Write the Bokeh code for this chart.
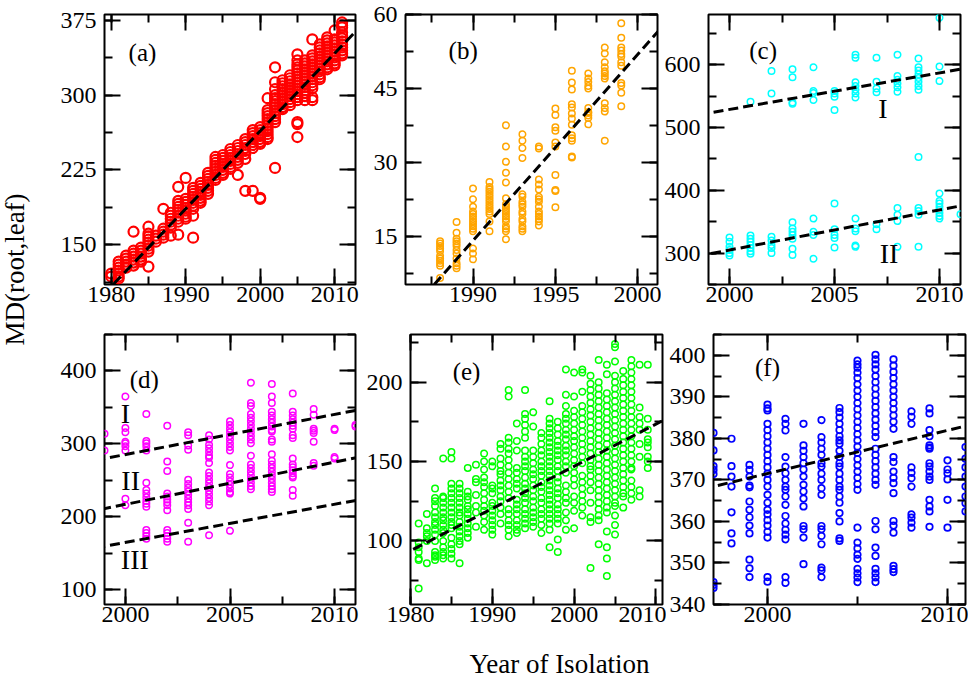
import math
from bokeh.plotting import figure
from bokeh.layouts import row, column
from bokeh.models import (SingleIntervalTicker, LinearAxis, Slope, Label,
                          CustomJSTickFormatter)
from bokeh.embed import file_html
from bokeh.resources import INLINE

# ---------------- data ----------------
# panel (a)
a_years = list(range(1980, 2012))
a_vals = [
    [121, 118],
    [133, 130, 127, 124, 121, 118, 116],
    [139, 136, 133, 130, 127],
    [163, 144, 141, 138, 135, 132, 129],
    [147, 144, 141, 138, 135, 133],
    [168, 161, 158, 155, 152, 149, 146, 143, 128],
    [159, 156, 153],
    [186, 166, 163, 160, 157],
    [182, 179, 176, 173, 170, 167, 159],
    [208, 194, 191, 188, 185, 182, 179, 176, 173, 160],
    [217, 196, 193, 190, 187, 184, 181, 178, 176],
    [207, 204, 201, 198, 195, 192, 189, 186, 179, 157],
    [212, 209, 206, 203, 200, 197, 194, 192],
    [222, 219, 216, 213, 210, 207, 204, 201],
    [238, 235, 232, 229, 226, 223, 220, 217, 215],
    [240, 237, 234, 231, 228, 225, 222, 220],
    [246, 243, 240, 237, 234, 231, 228, 226],
    [250, 247, 244, 241, 238, 235, 232, 220],
    [256, 253, 250, 247, 244, 241, 236, 204],
    [265, 262, 259, 256, 253, 250, 247, 204],
    [268, 265, 262, 259, 256, 253, 251, 197, 196],
    [297, 285, 282, 279, 276, 273, 270, 267, 264, 261, 258, 256],
    [328, 313, 306, 300, 297, 294, 291, 288, 285, 282, 279, 276, 273, 227],
    [315, 312, 309, 306, 303, 300, 297, 294, 291, 288, 286],
    [320, 317, 314, 311, 308, 305, 302, 299, 296, 293, 290],
    [341, 335, 331, 328, 325, 322, 319, 316, 313, 310, 307, 304, 301, 298, 295, 273, 271, 258],
    [335, 332, 329, 326, 323, 320, 317, 314, 311, 308, 305, 302, 299, 295],
    [356, 340, 337, 334, 331, 328, 325, 322, 319, 316, 313, 310, 307, 298, 295],
    [351, 348, 345, 342, 339, 336, 333, 330, 327, 324, 321, 318, 316],
    [358, 355, 352, 349, 346, 343, 340, 337, 334, 331, 328, 326],
    [365, 356, 353, 350, 347, 344, 341, 338, 335, 332, 330],
    [373, 370, 368, 363, 360, 357, 354, 351, 348, 345, 342, 340],
]
a_fit_slope = [7.8]
a_fit_at2000 = [264.0]

# panel (b)
b_years = list(range(1988, 2000))
b_vals = [
    [14, 13.5, 13, 12.5, 12, 11, 10.5, 10, 9.5, 9, 6.5],
    [17.9, 15.7, 14.5, 14, 13.5, 13, 12.2, 11.5, 10.5, 9.5, 9, 8.5],
    [24.7, 22.5, 21, 20, 19.5, 19, 18.5, 18, 17.5, 17, 16.5, 16, 12.5, 11.5, 10.3],
    [26, 25, 24.5, 24, 23.5, 23, 22.5, 22, 21.5, 21, 20.5, 20, 19.5, 18, 16],
    [37.5, 33.2, 30.1, 27.9, 25.9, 22.7, 21.5, 21, 20.5, 20, 19.5, 19, 18.5, 18, 17, 16.5, 16, 14.4],
    [35.7, 34.4, 32.9, 30.9, 23.5, 23, 22, 21.5, 21, 20, 19.5, 18.5, 18, 17, 16.5, 16],
    [33.2, 32.8, 26.5, 25.5, 24.5, 23, 22.5, 22, 21, 20, 19.5, 19, 18.5, 18, 17.2],
    [40.9, 39.6, 37.1, 36.4, 34, 33.2, 27.4, 24.4, 24.2, 20.9],
    [48.6, 46.2, 44.8, 41.8, 41.1, 39.9, 38.9, 37.6, 35.5, 34.9, 34.4, 31.2, 31.0],
    [48, 47, 46.3, 45.5, 45, 41, 40.2, 40, 39.5, 39, 37.7],
    [53.3, 52.1, 50.3, 49.3, 48.5, 48, 47.5, 47, 42, 41, 40.3, 34.4],
    [58.2, 55.3, 53.3, 52.7, 52, 51.5, 50.3, 49.6, 46.1, 45.6, 44.1, 41.4],
]
b_fit_slope = [3.78]
b_fit_at1995 = [33.0]

# panel (c)
c_years = list(range(2000, 2012))
c_vals = [
    [325, 318, 310, 305, 300, 296],
    [541, 328, 323, 318, 313, 308, 303, 299],
    [590, 554, 326, 320, 313, 308, 300],
    [593, 580, 540, 538, 349, 339, 334, 329, 323, 307, 297],
    [596, 558, 555, 544, 355, 334, 329, 291],
    [558, 554, 549, 528, 379, 338, 329, 324, 309],
    [616, 611, 572, 566, 560, 554, 548, 355, 339, 335, 312, 310],
    [611, 573, 562, 556, 346, 338],
    [616, 582, 576, 570, 564, 557, 372, 361, 351, 310],
    [610, 596, 591, 585, 579, 573, 566, 560, 453, 372, 367, 361, 310],
    [675, 597, 574, 395, 383, 379, 374, 369, 364, 359, 355],
    [362],
]
c_fit_slope = [5.82, 6.39]
c_fit_at1999 = [523.0, 298.5]
c_fit_names = ["I", "II"]

# panel (d)
d_years = list(range(1999, 2012))
d_vals = [
    [314, 291],
    [365, 322, 316, 303, 301, 297, 291, 225, 216],
    [341, 304, 301, 297, 291, 247, 237, 232, 227, 222, 218, 214, 182, 178, 174, 170],
    [325, 276, 263, 232, 228, 224, 220, 216, 209, 182, 178, 174, 170, 166],
    [316, 312, 298, 292, 251, 245, 240, 235, 230, 225, 220, 216, 211, 192, 166],
    [312, 306, 299, 294, 289, 284, 281, 274, 261, 256, 251, 246, 241, 236, 231, 226, 221, 216, 175],
    [331, 326, 321, 316, 311, 306, 301, 296, 291, 271, 259, 254, 249, 244, 239, 234, 232, 181],
    [384, 356, 352, 341, 336, 331, 326, 321, 316, 311, 306, 301, 284, 272, 267, 262, 257, 252, 247, 242, 238],
    [382, 365, 356, 344, 339, 334, 329, 324, 319, 317, 306, 303, 286, 277, 272, 267, 262, 257, 252, 247, 242, 238, 234],
    [369, 344, 339, 334, 329, 325, 321, 312, 308, 280, 272, 268, 264, 260, 256, 254, 237, 229],
    [348, 340, 321, 318, 315, 303, 274, 270],
    [321, 319, 282, 280],
    [326, 324],
]
d_fit_slope = [5.5, 5.8, 5.23]
d_fit_at1999 = [280.0, 211.4, 159.8]
d_fit_names = ["I", "II", "III"]

# panel (e)
e_years = list(range(1981, 2010))
e_vals = [
    [111, 99, 96, 93, 89, 88, 70],
    [117, 108, 105, 103, 100, 86],
    [133, 127, 125, 122, 118, 115, 112, 110, 107, 104, 100, 93, 91, 90, 88],
    [152, 128, 127, 124, 121, 118, 115, 113, 110, 107, 105, 100, 96, 93, 91, 89],
    [156, 152, 136, 133, 130, 127, 124, 121, 118, 115, 112, 110, 108, 102, 98, 95, 92, 89],
    [136, 133, 130, 127, 124, 121, 118, 116, 112, 109, 106, 103, 100, 98, 86],
    [146, 131, 128, 126, 122, 120, 117, 114, 111, 108, 105, 102],
    [148, 139, 137, 129, 122, 118, 109],
    [155, 150, 145, 140, 137, 134, 130, 126, 122, 119, 116, 112, 107],
    [150, 147, 135, 133, 130, 124, 122, 119, 116, 113, 110, 107, 104],
    [161, 158, 152, 148, 144, 142, 138, 135, 132, 128, 125, 121, 117, 111],
    [195, 191, 165, 162, 158, 155, 151, 147, 143, 139, 135, 131, 127, 120, 117, 113, 110, 107, 103],
    [174, 163, 157, 146, 143, 139, 136, 133, 126, 123, 120, 117, 113, 110, 107, 105],
    [195, 180, 177, 173, 169, 165, 157, 153, 150, 147, 144, 140, 136, 133, 130, 127, 124, 120, 117, 114, 111, 108],
    [181, 172, 157, 153, 149, 145, 142, 139, 135, 132, 128, 125, 121, 118, 115, 112, 109],
    [168, 165, 161, 157, 154, 150, 147, 144, 141, 137, 134, 131, 127, 124, 120, 117, 114, 110, 105],
    [188, 177, 174, 171, 168, 165, 162, 159, 156, 153, 150, 147, 144, 141, 138, 135, 132, 129, 126, 123, 120, 117, 114, 111, 107, 96],
    [175, 171, 167, 163, 160, 157, 154, 151, 147, 144, 140, 137, 133, 130, 127, 123, 120, 117, 114, 111, 101, 93],
    [208, 192, 185, 180, 177, 174, 170, 167, 164, 160, 157, 154, 150, 147, 143, 135, 131, 127, 124, 118, 113, 107],
    [206, 191, 182, 178, 174, 170, 166, 163, 159, 155, 151, 147, 143, 139, 135, 128, 124, 119, 108],
    [208, 206, 194, 185, 181, 177, 173, 169, 165, 161, 157, 153, 149, 141, 137, 133, 129, 125, 121, 116],
    [204, 199, 195, 191, 187, 183, 179, 175, 171, 167, 163, 159, 155, 151, 147, 145, 141, 137, 132, 124, 115, 112, 83],
    [214, 200, 196, 192, 188, 184, 180, 176, 172, 168, 164, 160, 156, 152, 148, 144, 140, 136, 132, 128, 124, 120, 116, 113, 98],
    [211, 205, 193, 189, 185, 181, 177, 173, 169, 165, 161, 157, 153, 149, 145, 141, 137, 133, 129, 125, 121, 118, 106, 96, 89, 78],
    [224, 222, 213, 204, 200, 196, 192, 188, 184, 180, 176, 172, 168, 164, 160, 156, 152, 148, 144, 140, 136, 132, 128, 124, 122, 116, 110, 104],
    [207, 202, 198, 194, 190, 186, 182, 178, 174, 170, 166, 162, 158, 154, 150, 146, 142, 138, 134, 130, 128, 121],
    [214, 210, 206, 202, 198, 194, 190, 186, 182, 178, 174, 170, 166, 162, 158, 154, 150, 146, 145, 138, 134, 130, 126],
    [211, 184, 178, 174, 170, 161, 153, 132, 128],
    [211, 177, 170, 164, 162, 159, 153, 150, 146],
]
e_fit_slope = [2.66]
e_fit_at1980 = [93.8]

# panel (f)
f_years = list(range(1997, 2012))
f_vals = [
    [381.3, 377.1, 373.3, 372.4, 371.4, 345.4, 344.7, 344],
    [379.9, 373.3, 370.8, 368.4, 362.2, 357.1, 354.7],
    [373.6, 372.4, 370.8, 368.6, 368.2, 364.8, 362.8, 361, 359, 357.1, 350.8, 348.7, 346.6],
    [388.1, 387.2, 386.7, 383.5, 382, 380.5, 379, 377.5, 376, 374.5, 373, 371.5, 370, 368.4, 366.4,
     364.5, 362.8, 361.7, 360.3, 359, 357.5, 356.1, 346.6, 345.5],
    [384.7, 383.5, 381.9, 375.5, 373.2, 371.6, 370, 368.4, 367.6, 366, 364, 361.3, 359.5, 358,
     356.8, 355.7, 346.6, 345.2],
    [383.5, 378.3, 377, 375.5, 374, 372.5, 370.8, 368.8, 367.2, 365.5, 363.6, 358.9, 358.1, 356.1, 349.7],
    [384.4, 380.3, 379, 377.5, 376, 374, 373.2, 371.5, 370, 368, 366.4, 358.9, 358.1, 356.5, 354.5,
     348.9, 348.2, 346.6],
    [387.3, 386.3, 385, 383.5, 382, 380.5, 379.5, 378.7, 377, 375.5, 374, 373.2, 371.5, 370, 368.4,
     367.6, 366, 364.5, 362, 360, 355.9, 355.3],
    [398.7, 397.8, 397, 395.8, 394.5, 393, 391.5, 390, 388.5, 387, 385.5, 384, 382.5, 381, 379.5, 378,
     376.5, 375, 373.5, 372, 370.5, 369, 367.6, 358.5, 354.9, 353.5, 352, 351, 348.6, 347.5, 346.5, 345.4],
    [400.1, 399, 397.8, 396.6, 395, 393.5, 392, 390.5, 389, 387.5, 386, 384.5, 383, 381.5, 380.3,
     377.5, 376, 374.5, 373, 371.5, 370, 368.8, 360.1, 358.1, 353.7, 351.7, 348.6, 347.5, 346.5, 345.4],
    [399, 397.5, 396, 394.5, 393, 391.5, 390, 388.5, 387, 385.5, 384, 382.3, 375.5, 374.3, 372, 370.5,
     369.2, 366.8, 360.1, 359, 357.3, 349.3, 348.5, 347.8],
    [386.5, 385.2, 383.5, 373, 371.7, 370.4, 368.4, 361.7, 360.9, 359.7, 358.5],
    [387.2, 386, 382, 380.5, 378.3, 377.8, 377.5, 374, 373.2, 372, 370.8, 370, 365.2, 363.6, 362.4, 358.7],
    [374.7, 372.5, 371.6, 370.1, 365.2, 358.5],
    [377.9, 375.1, 373, 370.8, 368.4, 366, 364.4, 362.4],
]
f_fit_slope = [1.04]
f_fit_at1997 = [368.4]

# ---------------- styling helpers ----------------
FONT = "Liberation Serif"
TICK_FS = "24px"
PANEL_FS = "25px"
ROMAN_FS = "28px"
TITLE_FS = "27px"


def flat(years, vals):
    xs = [y for y, vs in zip(years, vals) for _ in vs]
    ys = [v for vs in vals for v in vs]
    return xs, ys


def style_axis(ax, is_x, blank=False):
    ax.axis_line_color = None
    ax.major_tick_in = 16
    ax.major_tick_out = 0
    ax.minor_tick_in = 8
    ax.minor_tick_out = 0
    ax.major_tick_line_width = 2
    ax.minor_tick_line_width = 2
    ax.major_tick_line_color = "black"
    ax.minor_tick_line_color = "black"
    ax.major_label_text_font = FONT
    ax.major_label_text_font_size = TICK_FS
    ax.major_label_text_color = "black"
    ax.major_label_standoff = 2 if is_x else 8
    if blank:
        ax.formatter = CustomJSTickFormatter(code="return ''")
        ax.major_label_text_font_size = "1px"
        ax.major_label_standoff = 0


def make_panel(xr, yr, xint, yint, borders, fw, fh):
    l, r, t, b = borders
    p = figure(frame_width=fw, frame_height=fh, x_range=xr, y_range=yr,
               min_border_left=l, min_border_right=r, min_border_top=t,
               min_border_bottom=b, toolbar_location=None, output_backend="svg",
               background_fill_color="white", border_fill_color="white")
    p.xgrid.visible = False
    p.ygrid.visible = False
    p.outline_line_color = "black"
    p.outline_line_width = 2
    p.xaxis.ticker = SingleIntervalTicker(interval=xint, num_minor_ticks=2)
    p.yaxis.ticker = SingleIntervalTicker(interval=yint, num_minor_ticks=2)
    for ax in p.xaxis:
        style_axis(ax, True)
    for ax in p.yaxis:
        style_axis(ax, False)
    top = LinearAxis(ticker=SingleIntervalTicker(interval=xint, num_minor_ticks=2))
    style_axis(top, True, blank=True)
    p.add_layout(top, "above")
    right = LinearAxis(ticker=SingleIntervalTicker(interval=yint, num_minor_ticks=2))
    style_axis(right, False, blank=True)
    p.add_layout(right, "right")
    return p


def add_points(p, years, vals, color, size, lw):
    xs, ys = flat(years, vals)
    p.scatter(xs, ys, marker="circle", size=size, line_color=color,
              line_width=lw, fill_color=None)


def add_fit(p, slope, x0, y0, dash="10 5"):
    p.add_layout(Slope(gradient=slope, y_intercept=y0 - slope * x0,
                       line_color="black", line_width=3, line_dash=dash))


def add_text(p, x, y, txt, fs=PANEL_FS):
    p.add_layout(Label(x=x, y=y, text=txt, text_font=FONT, text_font_size=fs,
                       text_align="center", text_baseline="middle",
                       text_color="black"))


FH = 270
TOP_B = (14, 30)   # top, bottom borders for row 1
BOT_B = (20, 30)   # top, bottom borders for row 2

# (a)
pa = make_panel((1979.1, 2012.8), (110, 381), 10, 75, (68, 8) + TOP_B, 251, FH)
add_points(pa, a_years, a_vals, "#ff0000", 10, 2.2)
add_fit(pa, a_fit_slope[0], 2000, a_fit_at2000[0], "11 5")
add_text(pa, 1984.2, 343, "(a)")

# (b)
pb = make_panel((1985.9, 2001.2), (5.2, 60), 5, 15, (42, 4) + TOP_B, 252, FH)
add_points(pb, b_years, b_vals, "#ffa500", 6.5, 1.5)
add_fit(pb, b_fit_slope[0], 1995, b_fit_at1995[0])
add_text(pb, 1989.4, 52.6, "(b)")

# (c)
pc = make_panel((1999, 2011), (250, 680), 5, 100, (46, 3) + TOP_B, 252, FH)
add_points(pc, c_years, c_vals, "#00ffff", 6.5, 1.5)
for s, v in zip(c_fit_slope, c_fit_at1999):
    add_fit(pc, s, 1999, v)
add_text(pc, 2001.6, 622, "(c)")
add_text(pc, 2007.3, 530, c_fit_names[0], ROMAN_FS)
add_text(pc, 2007.6, 300, c_fit_names[1], ROMAN_FS)

# (d)
pd_ = make_panel((1999, 2011), (80, 450), 5, 100, (68, 8) + BOT_B, 251, FH)
add_points(pd_, d_years, d_vals, "#ff00ff", 6.5, 1.5)
for s, v in zip(d_fit_slope, d_fit_at1999):
    add_fit(pd_, s, 1999, v)
add_text(pd_, 2000.9, 389, "(d)")
add_text(pd_, 2000.0, 342, d_fit_names[0], ROMAN_FS)
add_text(pd_, 2000.25, 250, d_fit_names[1], ROMAN_FS)
add_text(pd_, 2000.45, 141, d_fit_names[2], ROMAN_FS)

# (e)
pe = make_panel((1980, 2010.8), (60, 230), 10, 50, (42, 4) + BOT_B, 252, FH)
add_points(pe, e_years, e_vals, "#00ff00", 6.5, 1.5)
add_fit(pe, e_fit_slope[0], 1980, e_fit_at1980[0])
add_text(pe, 1986.85, 207, "(e)")

# (f)
pf = make_panel((1997, 2011), (340, 405), 10, 10, (46, 3) + BOT_B, 252, FH)
add_points(pf, f_years, f_vals, "#0000ff", 6.5, 1.7)
add_fit(pf, f_fit_slope[0], 1997, f_fit_at1997[0])
add_text(pf, 2000.0, 397, "(f)")

# y label strip (left)
LAB_H = 14 + FH + 30 + 20 + FH + 30
lab = figure(width=36, height=LAB_H, x_range=(0, 36), y_range=(0, LAB_H),
             min_border=0, toolbar_location=None, output_backend="svg",
             x_axis_type=None, y_axis_type=None, outline_line_color=None)
lab.xgrid.visible = False
lab.ygrid.visible = False
lab.add_layout(Label(x=14, y=LAB_H - 269, text="MD(root,leaf)", text_font=FONT,
                     text_font_size=TITLE_FS, angle=math.pi / 2,
                     text_align="center", text_baseline="middle",
                     text_color="black"))

# x label strip (bottom)
XL_W, XL_H = 962, 44
xl = figure(width=XL_W, height=XL_H, x_range=(0, XL_W), y_range=(0, XL_H),
            min_border=0, toolbar_location=None, output_backend="svg",
            x_axis_type=None, y_axis_type=None, outline_line_color=None)
xl.xgrid.visible = False
xl.ygrid.visible = False
xl.add_layout(Label(x=559, y=15, text="Year of Isolation", text_font=FONT,
                    text_font_size=TITLE_FS, text_align="center",
                    text_baseline="middle", text_color="black"))

layout = column(row(lab, column(row(pa, pb, pc), row(pd_, pe, pf))), xl)

open("out.html", "w").write(file_html(layout, INLINE))
